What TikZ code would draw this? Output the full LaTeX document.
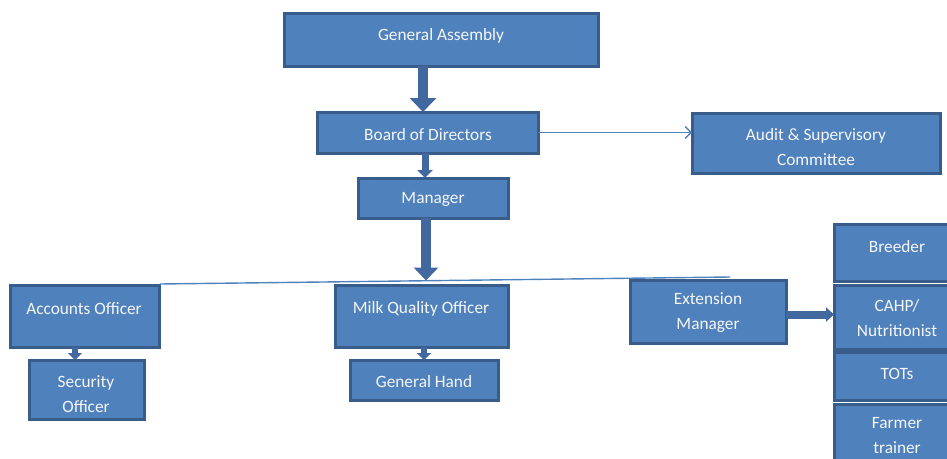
\documentclass[tikz,border=0pt]{standalone}
\usepackage{fontspec}
\setmainfont{Carlito}
\usetikzlibrary{arrows.meta}
\definecolor{boxfill}{HTML}{4F81BD}
\definecolor{boxline}{HTML}{385D8A}
\definecolor{txt}{HTML}{F6F6F6}
\definecolor{arrowcol}{HTML}{41699F}
\begin{document}
\begin{tikzpicture}[x=1pt,y=-1pt,
  box/.style={draw=boxline, fill=boxfill, line width=3pt, rectangle, inner sep=0pt, outer sep=0pt, anchor=north west},
  lbl/.style={text=txt, font=\fontsize{17.3}{25}\selectfont, align=center, inner sep=0pt, anchor=center, yshift=-1.5pt},
  bar/.style n args={3}{draw=arrowcol, line width=#1pt, -{Triangle[width=#2pt,length=#3pt]}},
  thin/.style={draw=boxfill, line width=1.4pt}]
\useasboundingbox (0,0) rectangle (947,458);

% boxes
\node[box, minimum width=314pt, minimum height=53pt] (ga) at (284,13) {};
\node[box, minimum width=221pt, minimum height=41pt] (bd) at (317,112) {};
\node[box, minimum width=248pt, minimum height=60pt] (au) at (692,113) {};
\node[box, minimum width=150pt, minimum height=40pt] (mg) at (358,178) {};
\node[box, minimum width=149pt, minimum height=62pt] (ao) at (10,285) {};
\node[box, minimum width=115pt, minimum height=59pt] (so) at (29,360) {};
\node[box, minimum width=173pt, minimum height=62pt] (mq) at (335,285) {};
\node[box, minimum width=148pt, minimum height=40pt] (gh) at (350,360) {};
\node[box, minimum width=156pt, minimum height=63pt] (em) at (630,280) {};
\node[box, minimum width=126pt, minimum height=57pt] (br) at (834,224) {};
\node[box, minimum width=126pt, minimum height=64pt] (ca) at (834,285) {};
\node[box, minimum width=126pt, minimum height=48pt] (to) at (834,352) {};
\node[box, minimum width=126pt, minimum height=66pt] (ft) at (834,404) {};

% labels
\node[lbl] (gat) at (441,34) {General Assembly};
\node[lbl] (bdt) at (428,133) {Board of Directors};
\node[lbl] (aut) at (816,145.5) {Audit \& Supervisory\\Committee};
\node[lbl] (mgt) at (433,198) {Manager};
\node[lbl] (aot) at (84,307) {Accounts Officer};
\node[lbl] (sot) at (86,392.5) {Security\\Officer};
\node[lbl] (mqt) at (421,307) {Milk Quality Officer};
\node[lbl] (ght) at (424,380) {General Hand};
\node[lbl] (emt) at (708,311.5) {Extension\\Manager};
\node[lbl] (brt) at (897,245) {Breeder};
\node[lbl] (cat) at (897,316.5) {CAHP/\\Nutritionist};
\node[lbl] (tot) at (897,372) {TOTs};
\node[lbl] (ftt) at (897,434.5) {Farmer\\trainer};

% horizontal connector line
\coordinate (hl) at (160,284);
\coordinate (hr) at (730,277);
\coordinate (hm) at (426,280.5);
\draw[thin] (hl) -- (hr);

% arrow x positions
\coordinate (xa) at (423,0);
\coordinate (xb) at (425,0);
\coordinate (xc) at (75,0);
\coordinate (xd) at (424,0);

% arrows
\draw[bar={10}{26}{14}] (ga.south -| xa) -- (bd.north -| xa);
\draw[bar={7}{15}{8}] (bd.south -| xb) -- (mg.north -| xb);
\draw[bar={10}{24}{13}] (mg.south -| hm) -- (hm);
\draw[bar={6}{14}{7}] (ao.south -| xc) -- (so.north -| xc);
\draw[bar={6}{14}{7}] (mq.south -| xd) -- (gh.north -| xd);
\draw[bar={8}{14}{8}] ([yshift=-3pt]em.east) -- ([yshift=-3pt]em.east -| ca.west);
\draw[thin, -{Straight Barb[width=12pt,length=6pt]}] (bd.east) -- (bd.east -| au.west);
\end{tikzpicture}
\end{document}
